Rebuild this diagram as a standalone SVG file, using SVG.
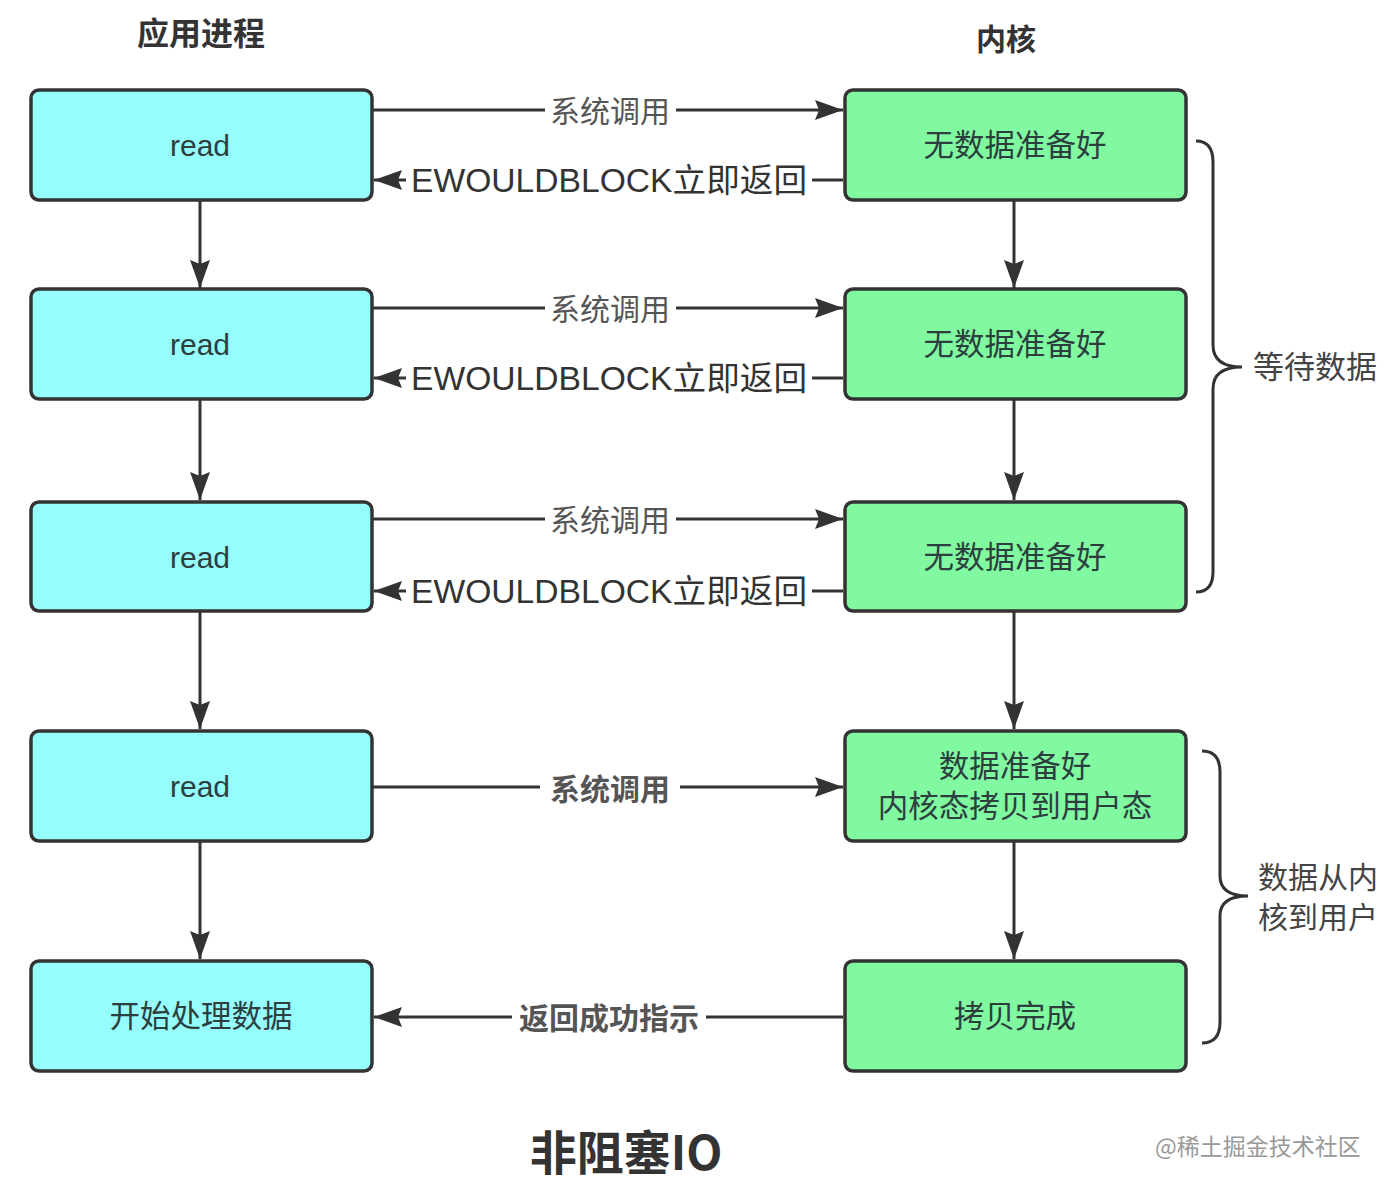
<svg xmlns="http://www.w3.org/2000/svg" width="1400" height="1199" viewBox="0 0 1400 1199">
<defs>
<style>
.t{font-family:"Noto Sans CJK SC","Liberation Sans",sans-serif;}
.app{fill:#96fdfd;stroke:#333;stroke-width:3.5;}
.ker{fill:#80f9a0;stroke:#333;stroke-width:3.5;}
.lbl{font-family:"Liberation Sans","Noto Sans CJK SC",sans-serif;font-size:30px;fill:#2c3e3e;text-anchor:middle;}
.cl{font-family:"Noto Sans CJK SC",sans-serif;font-size:30.5px;fill:#2c3e3e;text-anchor:middle;}
.edge{stroke:#333;stroke-width:3;fill:none;}
.el{font-family:"Noto Sans CJK SC",sans-serif;font-size:30px;fill:#555;text-anchor:middle;}
.ew{font-family:"Liberation Sans","Noto Sans CJK SC",sans-serif;font-size:33px;fill:#333;text-anchor:middle;}
.brace{stroke:#333;stroke-width:3;fill:none;}
</style>
<marker id="ahb" viewBox="0 0 28 20" refX="28" refY="10" markerWidth="28" markerHeight="20" markerUnits="userSpaceOnUse" orient="auto">
<path d="M0,0 L28,10 L0,20 L4,10 z" fill="#333"/>
</marker>
</defs>
<rect width="1400" height="1199" fill="#fff"/>
<text class="t" x="201" y="45" font-size="32" font-weight="bold" fill="#333" text-anchor="middle">应用进程</text>
<text class="t" x="1006" y="50" font-size="30" font-weight="bold" fill="#333" text-anchor="middle">内核</text>

<g id="connectors">
<line class="edge" x1="373" y1="110" x2="545" y2="110"/>
<line class="edge" x1="676" y1="110" x2="843" y2="110" marker-end="url(#ahb)"/>
<line class="edge" x1="843" y1="180" x2="812" y2="180"/>
<line class="edge" x1="406" y1="180" x2="374" y2="180" marker-end="url(#ahb)"/>
<line class="edge" x1="373" y1="308" x2="545" y2="308"/>
<line class="edge" x1="676" y1="308" x2="843" y2="308" marker-end="url(#ahb)"/>
<line class="edge" x1="843" y1="378" x2="812" y2="378"/>
<line class="edge" x1="406" y1="378" x2="374" y2="378" marker-end="url(#ahb)"/>
<line class="edge" x1="373" y1="519" x2="545" y2="519"/>
<line class="edge" x1="676" y1="519" x2="843" y2="519" marker-end="url(#ahb)"/>
<line class="edge" x1="843" y1="591" x2="812" y2="591"/>
<line class="edge" x1="406" y1="591" x2="374" y2="591" marker-end="url(#ahb)"/>
<line class="edge" x1="373" y1="787" x2="540" y2="787"/>
<line class="edge" x1="680" y1="787" x2="843" y2="787" marker-end="url(#ahb)"/>
<line class="edge" x1="843" y1="1017" x2="706" y2="1017"/>
<line class="edge" x1="512" y1="1017" x2="374" y2="1017" marker-end="url(#ahb)"/>
<line class="edge" x1="200" y1="201" x2="200" y2="288" marker-end="url(#ahb)"/>
<line class="edge" x1="200" y1="400" x2="200" y2="500" marker-end="url(#ahb)"/>
<line class="edge" x1="200" y1="612" x2="200" y2="729" marker-end="url(#ahb)"/>
<line class="edge" x1="200" y1="842" x2="200" y2="959" marker-end="url(#ahb)"/>
<line class="edge" x1="1014" y1="201" x2="1014" y2="288" marker-end="url(#ahb)"/>
<line class="edge" x1="1014" y1="400" x2="1014" y2="500" marker-end="url(#ahb)"/>
<line class="edge" x1="1014" y1="612" x2="1014" y2="729" marker-end="url(#ahb)"/>
<line class="edge" x1="1014" y1="842" x2="1014" y2="959" marker-end="url(#ahb)"/>
<text class="el" x="610" y="122">系统调用</text>
<text class="ew" x="609" y="192" textLength="396" lengthAdjust="spacingAndGlyphs">EWOULDBLOCK立即返回</text>
<text class="el" x="610" y="320">系统调用</text>
<text class="ew" x="609" y="390" textLength="396" lengthAdjust="spacingAndGlyphs">EWOULDBLOCK立即返回</text>
<text class="el" x="610" y="531">系统调用</text>
<text class="ew" x="609" y="603" textLength="396" lengthAdjust="spacingAndGlyphs">EWOULDBLOCK立即返回</text>
<text class="el" x="610" y="800" font-size="32" font-weight="bold" fill="#333">系统调用</text>
<text class="el" x="609" y="1029" font-size="31" fill="#333" font-weight="bold">返回成功指示</text>
</g>

<g id="app1"><rect class="app" x="31" y="90" width="341" height="110" rx="8"/><text class="lbl" x="200" y="156">read</text></g>
<g id="app2"><rect class="app" x="31" y="289" width="341" height="110" rx="8"/><text class="lbl" x="200" y="355">read</text></g>
<g id="app3"><rect class="app" x="31" y="502" width="341" height="109" rx="8"/><text class="lbl" x="200" y="568">read</text></g>
<g id="app4"><rect class="app" x="31" y="731" width="341" height="110" rx="8"/><text class="lbl" x="200" y="797">read</text></g>
<g id="app5"><rect class="app" x="31" y="961" width="341" height="110" rx="8"/><text class="cl" x="201" y="1027">开始处理数据</text></g>

<g id="k1"><rect class="ker" x="845" y="90" width="341" height="110" rx="8"/><text class="cl" x="1015" y="156">无数据准备好</text></g>
<g id="k2"><rect class="ker" x="845" y="289" width="341" height="110" rx="8"/><text class="cl" x="1015" y="355">无数据准备好</text></g>
<g id="k3"><rect class="ker" x="845" y="502" width="341" height="109" rx="8"/><text class="cl" x="1015" y="568">无数据准备好</text></g>
<g id="k4"><rect class="ker" x="845" y="731" width="341" height="110" rx="8"/><text class="cl" x="1015" y="777">数据准备好</text><text class="cl" x="1015" y="817">内核态拷贝到用户态</text></g>
<g id="k5"><rect class="ker" x="845" y="961" width="341" height="110" rx="8"/><text class="cl" x="1015" y="1027">拷贝完成</text></g>

<g id="brace1">
<path class="brace" d="M1196,141 Q1213,141 1213,162 L1213,345 Q1213,367 1242,367 Q1213,367 1213,389 L1213,572 Q1213,592 1196,592"/>
<text class="t" x="1253" y="378" font-size="31" fill="#444">等待数据</text>
</g>
<g id="brace2">
<path class="brace" d="M1202,751 Q1220,751 1220,772 L1220,876 Q1220,896 1248,896 Q1220,896 1220,916 L1220,1022 Q1220,1043 1202,1043"/>
<text class="t" x="1258" y="888" font-size="30" fill="#444">数据从内</text>
<text class="t" x="1258" y="928" font-size="30" fill="#444">核到用户</text>
</g>

<text class="t" x="626" y="1170" font-size="47" font-weight="bold" fill="#333" text-anchor="middle">非阻塞IO</text>
<text class="t" x="1258" y="1155" font-size="23" fill="#999" text-anchor="middle">@稀土掘金技术社区</text>
</svg>
